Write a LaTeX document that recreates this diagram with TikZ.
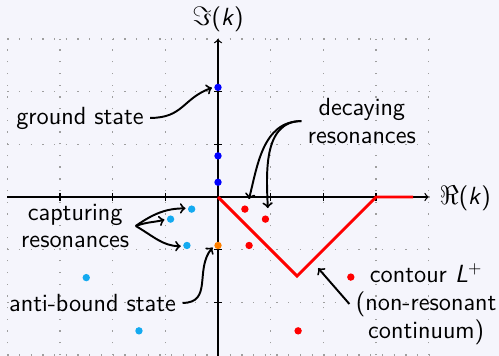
\documentclass[tikz,border=0pt]{standalone}
\definecolor{bg}{RGB}{245,245,252}
\definecolor{capblue}{RGB}{20,170,240}
\definecolor{antiorange}{RGB}{255,128,0}
\tikzset{
  gridline/.style={gray!75,line width=0.7pt,dash pattern=on 0.7pt off 5.62pt},
  axis/.style={black,line width=0.7pt},
  dot/.style={circle,inner sep=0pt,minimum size=0.14cm,draw=none},
  ann/.style={black,line width=1.05pt,->},
  lbl/.style={align=center,text=black},
  contour/.style={red,line width=1.6pt},
}
\newcommand{\bigmath}[1]{{\fontsize{14.4}{17}\selectfont$#1$}}
\begin{document}
\begin{tikzpicture}[x=1cm,y=1cm,font=\sffamily\fontsize{13.4}{15}\selectfont]
\fill[bg] (-4.137,-3.017) rectangle (5.332,3.738);
\useasboundingbox (-4.137,-3.017) rectangle (5.332,3.738);
% grid
\draw[gridline] (-4,-3) grid (4,3);
% axes
\draw[axis,->] (-4,0) -- (4,0);
\draw[axis,->] (0,-3.1) -- (0,3);
\foreach \x in {-3,-2,-1,1,2,3} \draw[axis] (\x,-0.07) -- (\x,0.07);
\foreach \y in {-2,-1,1,2} \draw[axis] (-0.07,\y) -- (0.07,\y);
\node (imk) at (0,3.38) {\bigmath{\Im}(\textit{k})};
\node (rek) at (4.69,-0.02) {\bigmath{\Re}(\textit{k})};
% contour
\draw[contour] (0,0) -- (1.5,-1.5) -- (3,0) -- (3.7,0);
% bound states
\node[dot,fill=blue] (b1) at (0,2.08) {};
\node[dot,fill=blue] (b2) at (0,0.78) {};
\node[dot,fill=blue] (b3) at (0,0.28) {};
\node[dot,fill=antiorange] (ab) at (0,-0.92) {};
% decaying resonances
\node[dot,fill=red] (r1) at (0.51,-0.23) {};
\node[dot,fill=red] (r2) at (0.9,-0.42) {};
\node[dot,fill=red] (r3) at (0.59,-0.92) {};
\node[dot,fill=red] (r4) at (2.52,-1.52) {};
\node[dot,fill=red] (r5) at (1.52,-2.54) {};
% capturing resonances
\node[dot,fill=capblue] (c1) at (-0.5,-0.23) {};
\node[dot,fill=capblue] (c2) at (-0.9,-0.42) {};
\node[dot,fill=capblue] (c3) at (-0.59,-0.92) {};
\node[dot,fill=capblue] (c4) at (-2.5,-1.53) {};
\node[dot,fill=capblue] (c5) at (-1.5,-2.54) {};
% labels
\node[lbl] (gs) at (-2.62,1.50) {ground state};
\node[lbl] (dec) at (2.73,1.44) {decaying\\resonances};
\node[lbl] (cap) at (-2.71,-0.55) {capturing\\resonances};
\node[lbl] (abs) at (-2.38,-2.01) {anti-bound state};
\node[lbl] (cont) at (3.95,-2.03) {contour \textit{L}$^{+}$\\(non-resonant\\continuum)};
\coordinate (ctip) at (1.90,-1.35);
% annotation arrows
\draw[ann,shorten >=0.04cm] (gs.east) to[out=0,in=200,looseness=1.2] (b1.175);
\draw[ann,shorten >=0.13cm] (dec.west) to[out=180,in=75] (r1.57);
\draw[ann,shorten >=0.15cm] (dec.west) to[out=180,in=92] (r2.50);
\draw[ann,shorten >=0.04cm] (cap.east) to[out=35,in=180] (c1.170);
\draw[ann,shorten >=0.04cm] (cap.east) to[out=20,in=195] (c2.180);
\draw[ann,shorten >=0.04cm] (cap.east) to[out=-30,in=180] (c3.190);
\draw[ann,shorten >=0.04cm] (abs.east) to[out=0,in=230,looseness=1.2] (ab.185);
\draw[ann] (cont.west) -- (ctip);
\end{tikzpicture}
\end{document}
